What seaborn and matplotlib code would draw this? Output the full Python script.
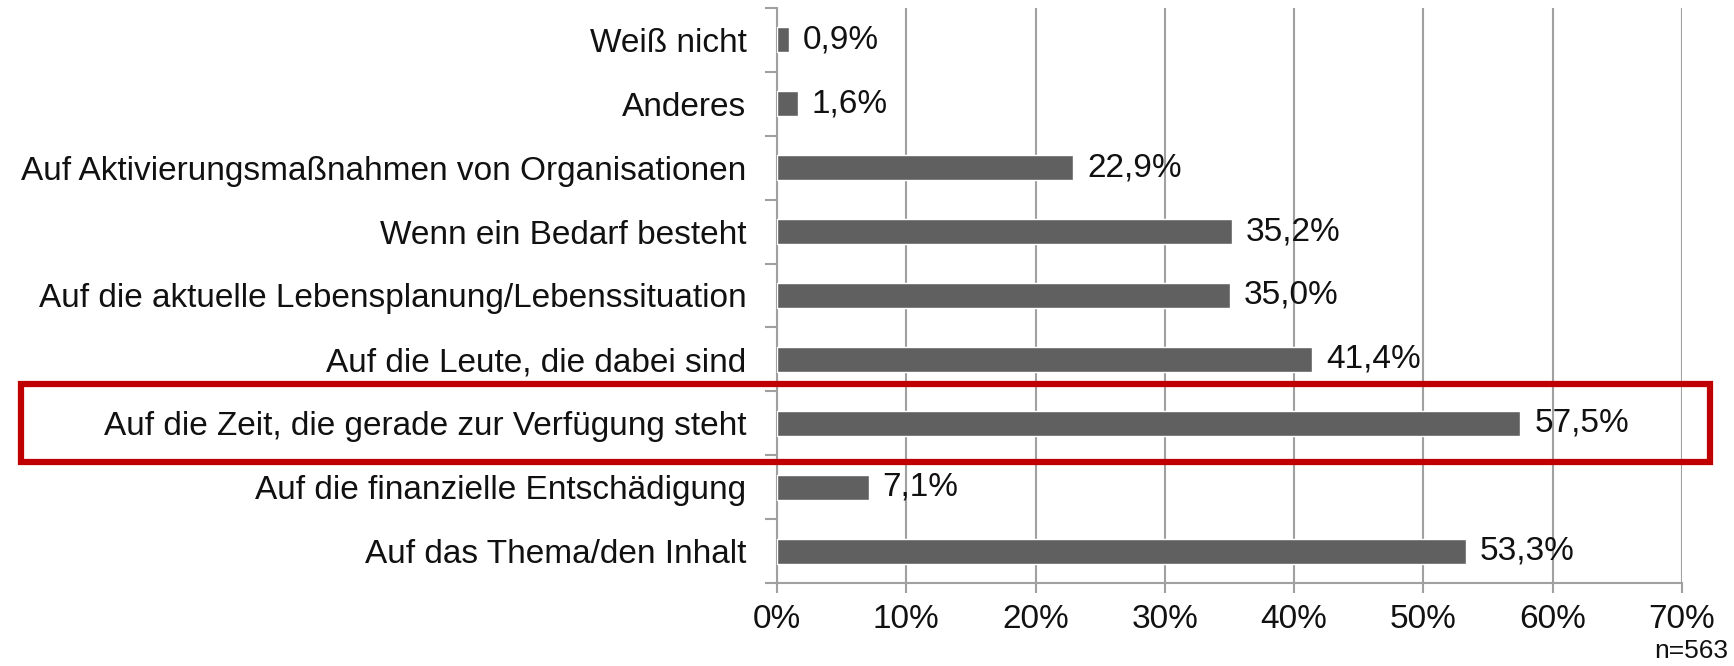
import matplotlib
matplotlib.use("Agg")
import matplotlib.pyplot as plt
import matplotlib.patches as mpatches
from matplotlib.transforms import blended_transform_factory
import seaborn as sns
import pandas as pd

# Data (top to bottom as in the chart)
categories = [
    "Weiß nicht",
    "Anderes",
    "Auf Aktivierungsmaßnahmen von Organisationen",
    "Wenn ein Bedarf besteht",
    "Auf die aktuelle Lebensplanung/Lebenssituation",
    "Auf die Leute, die dabei sind",
    "Auf die Zeit, die gerade zur Verfügung steht",
    "Auf die finanzielle Entschädigung",
    "Auf das Thema/den Inhalt",
]
values = [0.9, 1.6, 22.9, 35.2, 35.0, 41.4, 57.5, 7.1, 53.3]
x_ticks = [0, 10, 20, 30, 40, 50, 60, 70]
highlight = "Auf die Zeit, die gerade zur Verfügung steht"
n_label = "n=563"

df = pd.DataFrame({"Kategorie": categories, "Anteil": values})

sns.set_style("white")
plt.rcParams["font.family"] = ["Liberation Sans", "DejaVu Sans"]

fig = plt.figure(figsize=(17.34, 6.66), dpi=100)
ax = fig.add_axes([777 / 1734, 1 - 583 / 666, (1682 - 777) / 1734, (583 - 8) / 666])

sns.barplot(data=df, x="Anteil", y="Kategorie", orient="h", color="#606060",
            width=0.39, saturation=1, ax=ax, zorder=3)

ax.set_xlim(0, 70)
ax.set_xticks(x_ticks)
ax.set_xticklabels([f"{t}%" for t in x_ticks])
ax.set_xlabel("")
ax.set_ylabel("")
ax.grid(axis="x", color="#a0a0a0", linewidth=1.5, zorder=0)
ax.set_axisbelow(True)

for side in ["top", "right"]:
    ax.spines[side].set_visible(False)
for side in ["left", "bottom"]:
    ax.spines[side].set_color("#a0a0a0")
    ax.spines[side].set_linewidth(1.5)

ax.tick_params(axis="x", labelsize=24, length=7, width=1.5, color="#a0a0a0",
               pad=8, labelcolor="#111111", bottom=True)
ax.tick_params(axis="y", labelsize=24, length=0, pad=22, labelcolor="#111111")

# category separator ticks on the y axis
ax.set_yticks([i - 0.5 for i in range(len(categories) + 1)], minor=True)
ax.tick_params(axis="y", which="minor", length=9, width=1.5, color="#a0a0a0", left=True)

for i, v in enumerate(values):
    ax.annotate(f"{v:.1f}".replace(".", ",") + "%", (v, i), xytext=(10, 0),
                textcoords="offset points", va="center", ha="left",
                fontsize=24, color="#111111")

fig.text(1728 / 1734, 0.004, n_label, ha="right", va="bottom",
         fontsize=19, color="#111111")

# red highlight box around the "Zeit" row
row = categories.index(highlight)
trans = blended_transform_factory(fig.transFigure, ax.transData)
rect = mpatches.Rectangle((21 / 1734, row - 0.61), (1710 - 21) / 1734, 1.22,
                          transform=trans, fill=False, edgecolor="#c00000",
                          linewidth=4.5, clip_on=False, zorder=5)
fig.patches.append(rect)

fig.savefig("out.png", dpi=100)
